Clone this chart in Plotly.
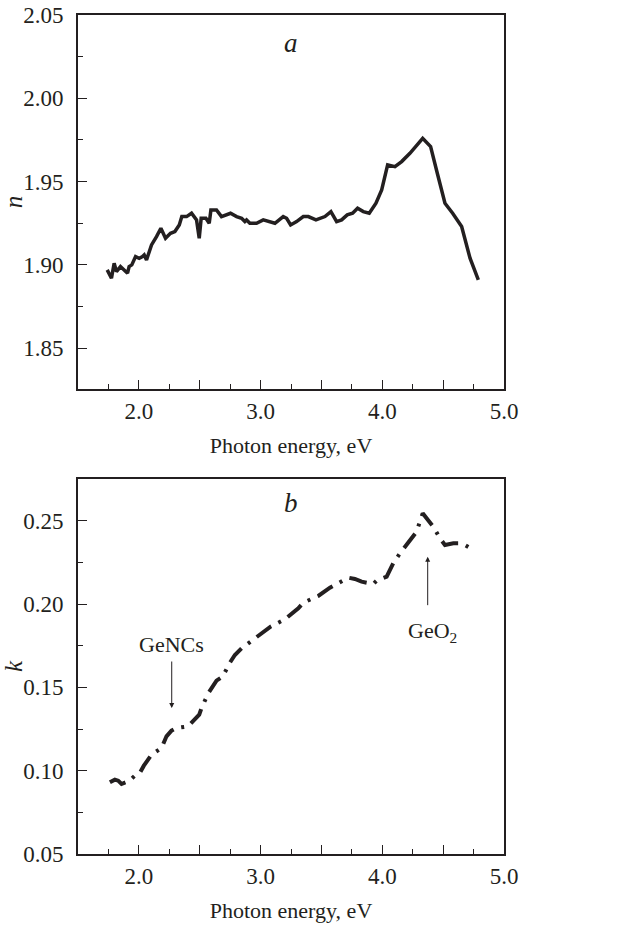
import plotly.graph_objects as go

# Panel a: refractive index n
n_energy = [1.74, 1.775, 1.797, 1.816, 1.849, 1.879, 1.907, 1.92, 1.942, 1.973, 2.003, 2.03, 2.044,
            2.063, 2.104, 2.145, 2.181, 2.219, 2.26, 2.296, 2.332, 2.353, 2.392, 2.433, 2.474, 2.496,
            2.512, 2.551, 2.578, 2.592, 2.638, 2.679, 2.753, 2.803, 2.844, 2.871, 2.885, 2.912, 2.967,
            3.022, 3.063, 3.118, 3.186, 3.214, 3.247, 3.296, 3.351, 3.392, 3.455, 3.529, 3.578, 3.625,
            3.666, 3.712, 3.756, 3.797, 3.844, 3.893, 3.948, 3.995, 4.044, 4.104, 4.159, 4.227, 4.332,
            4.397, 4.452, 4.515, 4.578, 4.652, 4.721, 4.789]
n_values = [1.897, 1.892, 1.901, 1.896, 1.899, 1.897, 1.895, 1.899, 1.900, 1.905, 1.904, 1.905, 1.906,
            1.903, 1.912, 1.917, 1.922, 1.916, 1.919, 1.920, 1.924, 1.929, 1.929, 1.931, 1.927, 1.916,
            1.928, 1.928, 1.925, 1.933, 1.933, 1.929, 1.931, 1.929, 1.928, 1.926, 1.927, 1.925, 1.925,
            1.927, 1.926, 1.925, 1.929, 1.928, 1.924, 1.926, 1.929, 1.929, 1.927, 1.929, 1.932, 1.926,
            1.927, 1.930, 1.931, 1.934, 1.932, 1.931, 1.937, 1.945, 1.960, 1.959, 1.962, 1.967, 1.976,
            1.971, 1.955, 1.937, 1.931, 1.923, 1.904, 1.891]

# Panel b: extinction coefficient k
k_energy = [1.762, 1.803, 1.83, 1.858, 1.893, 1.932, 1.967, 2.003, 2.041, 2.104, 2.186, 2.227, 2.268,
            2.31, 2.405, 2.496, 2.515, 2.57, 2.638, 2.688, 2.748, 2.789, 2.844, 2.953, 3.022, 3.082,
            3.2, 3.31, 3.351, 3.419, 3.474, 3.57, 3.679, 3.721, 3.775, 3.83, 3.926, 3.953, 4.036, 4.09,
            4.145, 4.241, 4.282, 4.332, 4.364, 4.419, 4.474, 4.515, 4.584, 4.638, 4.679, 4.726]
k_values = [0.093, 0.0946, 0.094, 0.092, 0.093, 0.0946, 0.097, 0.098, 0.103, 0.1096, 0.1136, 0.1206,
            0.124, 0.1256, 0.1266, 0.1336, 0.1376, 0.1464, 0.154, 0.1564, 0.1648, 0.1694, 0.1734,
            0.1794, 0.1828, 0.1864, 0.1908, 0.1974, 0.2008, 0.2028, 0.2048, 0.2098, 0.2144, 0.2158,
            0.215, 0.2134, 0.212, 0.214, 0.2164, 0.2244, 0.2304, 0.2394, 0.2434, 0.2544, 0.2514,
            0.2464, 0.2394, 0.2354, 0.2364, 0.2364, 0.2354, 0.2334]

x_tickvals = [1.5, 2.0, 2.5, 3.0, 3.5, 4.0, 4.5, 5.0]
x_ticktext = ["", "2.0", "", "3.0", "", "4.0", "", "5.0"]
n_tickvals = [1.85, 1.90, 1.95, 2.00, 2.05]
n_ticktext = ["1.85", "1.90", "1.95", "2.00", "2.05"]
k_tickvals = [0.05, 0.10, 0.15, 0.20, 0.25]
k_ticktext = ["0.05", "0.10", "0.15", "0.20", "0.25"]

INK = "#231f20"
FONT = "Liberation Serif"

fig = go.Figure()
fig.add_trace(go.Scatter(x=n_energy, y=n_values, mode="lines",
                         line=dict(color=INK, width=3.5), xaxis="x", yaxis="y", showlegend=False))
fig.add_trace(go.Scatter(x=k_energy, y=k_values, mode="lines",
                         line=dict(color=INK, width=4, dash="18px,8px,3px,8px"),
                         xaxis="x2", yaxis="y2", showlegend=False))

W, H = 632, 926
L, R, T, B = 78, 504, 15, 854
PH = B - T
top_dom = [(B - 389) / PH, 1.0]
bot_dom = [0.0, (B - 479) / PH]

def xaxis(anchor):
    return dict(domain=[0, 1], range=[1.5, 5.0], anchor=anchor, automargin=False,
                tickmode="array", tickvals=x_tickvals, ticktext=x_ticktext,
                ticks="inside", ticklen=9, tickwidth=1.3, tickcolor=INK,
                minor=dict(dtick=0.25, tick0=1.5, ticks="inside", ticklen=5, tickwidth=1.3, tickcolor=INK),
                showline=True, linecolor=INK, linewidth=2, mirror=True,
                showgrid=False, zeroline=False, ticklabeloverflow="allow",
                tickfont=dict(family=FONT, size=23, color=INK),
                title=dict(text="Photon energy, eV", font=dict(family=FONT, size=22, color=INK), standoff=15))

def yaxis(anchor, dom, rng, tv, tt, title):
    return dict(domain=dom, range=rng, anchor=anchor, automargin=False,
                tickmode="array", tickvals=tv, ticktext=tt,
                ticks="inside", ticklen=9, tickwidth=1.3, tickcolor=INK,
                minor=dict(dtick=0.025, tick0=tv[0], ticks="inside", ticklen=5, tickwidth=1.3, tickcolor=INK),
                showline=True, linecolor=INK, linewidth=2, mirror=True,
                showgrid=False, zeroline=False, ticklabeloverflow="allow",
                tickfont=dict(family=FONT, size=23, color=INK),
                ticklabelstandoff=8,
                title=dict(text=title, font=dict(family=FONT, size=25, color=INK), standoff=7))

fig.update_layout(
    width=W, height=H,
    margin=dict(l=L, r=W - R, t=T, b=H - B, autoexpand=False),
    paper_bgcolor="white", plot_bgcolor="white",
    xaxis=xaxis("y"),
    yaxis=yaxis("x", top_dom, [1.8255, 2.05], n_tickvals, n_ticktext, "<i>n</i>"),
    xaxis2=xaxis("y2"),
    yaxis2=yaxis("x2", bot_dom, [0.05, 0.275], k_tickvals, k_ticktext, "<i>k</i>"),
)

fig.add_annotation(x=3.25, y=2.033, xref="x", yref="y", text="<i>a</i>", showarrow=False,
                   font=dict(family=FONT, size=27, color=INK))
fig.add_annotation(x=3.25, y=0.2605, xref="x2", yref="y2", text="<i>b</i>", showarrow=False,
                   font=dict(family=FONT, size=27, color=INK))

# Arrows
fig.add_annotation(x=2.27, y=0.1376, ax=2.27, ay=0.1664, xref="x2", yref="y2", axref="x2", ayref="y2",
                   text="", showarrow=True, arrowhead=2, arrowsize=1, arrowwidth=1, arrowcolor=INK)
fig.add_annotation(x=2.27, y=0.1758, xref="x2", yref="y2", text="GeNCs", showarrow=False,
                   font=dict(family=FONT, size=22, color=INK))
fig.add_annotation(x=4.373, y=0.2284, ax=4.373, ay=0.1984, xref="x2", yref="y2", axref="x2", ayref="y2",
                   text="", showarrow=True, arrowhead=2, arrowsize=1, arrowwidth=1, arrowcolor=INK)
fig.add_annotation(x=4.414, y=0.1834, xref="x2", yref="y2", text="GeO<sub>2</sub>", showarrow=False,
                   font=dict(family=FONT, size=22, color=INK))

fig.write_html("out.html", config={"displayModeBar": False},
               post_script="document.body.style.margin='0';document.body.style.overflow='hidden';")
